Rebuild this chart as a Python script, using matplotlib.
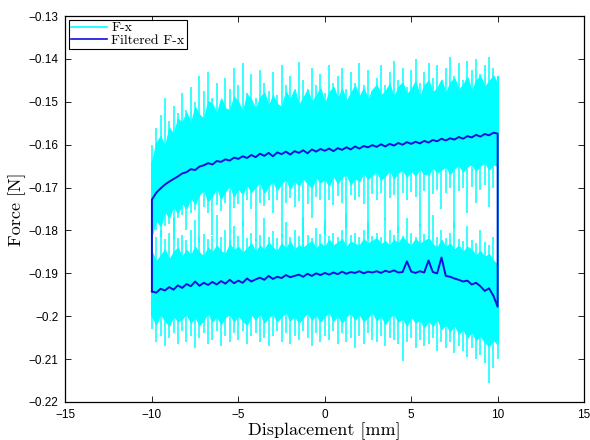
import numpy as np
import matplotlib
matplotlib.use("Agg")
import matplotlib.pyplot as plt
from matplotlib.lines import Line2D
from matplotlib.ticker import FuncFormatter

# displacement grid [mm], 0.25 mm step
x_fine = np.arange(-10, 10.001, 0.25)   # 81 points

# filtered force, upper branch [N]
f_up = [
    -0.1728, -0.1712, -0.1702, -0.1693,
    -0.1686, -0.1680, -0.1674, -0.1667,
    -0.1664, -0.1657, -0.1659, -0.1651,
    -0.1648, -0.1643, -0.1646, -0.1638,
    -0.1640, -0.1634, -0.1637, -0.1630,
    -0.1633, -0.1627, -0.1631, -0.1624,
    -0.1629, -0.1621, -0.1626, -0.1619,
    -0.1627, -0.1618, -0.1622, -0.1616,
    -0.1623, -0.1615, -0.1619, -0.1613,
    -0.1620, -0.1611, -0.1616, -0.1610,
    -0.1614, -0.1609, -0.1615, -0.1608,
    -0.1612, -0.1606, -0.1611, -0.1604,
    -0.1609, -0.1603, -0.1606, -0.1601,
    -0.1605, -0.1599, -0.1604, -0.1598,
    -0.1602, -0.1596, -0.1600, -0.1594,
    -0.1598, -0.1593, -0.1597, -0.1591,
    -0.1595, -0.1589, -0.1592, -0.1586,
    -0.1590, -0.1585, -0.1588, -0.1582,
    -0.1586, -0.1580, -0.1583, -0.1577,
    -0.1581, -0.1575, -0.1578, -0.1572,
    -0.1574]

# filtered force, lower branch [N]
f_low = [
    -0.1942, -0.1945, -0.1936, -0.1940,
    -0.1932, -0.1938, -0.1928, -0.1934,
    -0.1925, -0.1930, -0.1919, -0.1929,
    -0.1922, -0.1927, -0.1920, -0.1926,
    -0.1918, -0.1924, -0.1915, -0.1923,
    -0.1917, -0.1922, -0.1912, -0.1919,
    -0.1914, -0.1910, -0.1915, -0.1906,
    -0.1913, -0.1908, -0.1911, -0.1904,
    -0.1909, -0.1906, -0.1903, -0.1908,
    -0.1901, -0.1906, -0.1900, -0.1904,
    -0.1899, -0.1903, -0.1898, -0.1902,
    -0.1896, -0.1901, -0.1897, -0.1899,
    -0.1895, -0.1900, -0.1896, -0.1898,
    -0.1895, -0.1899, -0.1894, -0.1897,
    -0.1893, -0.1898, -0.1897, -0.1872,
    -0.1896, -0.1899, -0.1895, -0.1898,
    -0.1870, -0.1897, -0.1900, -0.1863,
    -0.1906, -0.1908, -0.1912, -0.1915,
    -0.1919, -0.1917, -0.1926, -0.1922,
    -0.1930, -0.1941, -0.1935, -0.1952,
    -0.1978]

# edges of the dense part of the raw signal [N]
up_core_top = [
    -0.1640, -0.1595, -0.1580, -0.1605,
    -0.1560, -0.1575, -0.1540, -0.1548,
    -0.1525, -0.1550, -0.1512, -0.1530,
    -0.1540, -0.1498, -0.1505, -0.1528,
    -0.1492, -0.1515, -0.1520, -0.1488,
    -0.1500, -0.1525, -0.1482, -0.1495,
    -0.1518, -0.1490, -0.1478, -0.1510,
    -0.1485, -0.1505, -0.1512, -0.1476,
    -0.1495, -0.1470, -0.1508, -0.1490,
    -0.1472, -0.1500, -0.1485, -0.1468,
    -0.1505, -0.1478, -0.1465, -0.1492,
    -0.1470, -0.1498, -0.1480, -0.1462,
    -0.1488, -0.1468, -0.1495, -0.1472,
    -0.1460, -0.1485, -0.1475, -0.1458,
    -0.1490, -0.1465, -0.1455, -0.1482,
    -0.1470, -0.1452, -0.1488, -0.1462,
    -0.1450, -0.1478, -0.1468, -0.1448,
    -0.1480, -0.1455, -0.1445, -0.1472,
    -0.1460, -0.1442, -0.1475, -0.1450,
    -0.1440, -0.1465, -0.1452, -0.1438,
    -0.1460]
up_core_bot = [
    -0.1810, -0.1775, -0.1790, -0.1755,
    -0.1770, -0.1742, -0.1760, -0.1735,
    -0.1748, -0.1722, -0.1738, -0.1715,
    -0.1705, -0.1732, -0.1718, -0.1700,
    -0.1725, -0.1708, -0.1695, -0.1720,
    -0.1702, -0.1715, -0.1692, -0.1710,
    -0.1698, -0.1688, -0.1712, -0.1695,
    -0.1685, -0.1705, -0.1690, -0.1680,
    -0.1702, -0.1684, -0.1695, -0.1678,
    -0.1690, -0.1700, -0.1675, -0.1688,
    -0.1680, -0.1695, -0.1672, -0.1690,
    -0.1675, -0.1668, -0.1692, -0.1678,
    -0.1685, -0.1665, -0.1680, -0.1670,
    -0.1662, -0.1682, -0.1672, -0.1660,
    -0.1678, -0.1665, -0.1658, -0.1675,
    -0.1660, -0.1672, -0.1655, -0.1668,
    -0.1670, -0.1652, -0.1665, -0.1658,
    -0.1650, -0.1668, -0.1655, -0.1648,
    -0.1662, -0.1650, -0.1645, -0.1660,
    -0.1648, -0.1640, -0.1658, -0.1645,
    -0.1650]
lo_core_top = [
    -0.1850, -0.1872, -0.1858, -0.1845,
    -0.1868, -0.1850, -0.1840, -0.1862,
    -0.1845, -0.1858, -0.1838, -0.1852,
    -0.1860, -0.1840, -0.1850, -0.1835,
    -0.1848, -0.1855, -0.1832, -0.1845,
    -0.1838, -0.1852, -0.1842, -0.1830,
    -0.1850, -0.1835, -0.1845, -0.1828,
    -0.1840, -0.1848, -0.1830, -0.1842,
    -0.1826, -0.1845, -0.1835, -0.1840,
    -0.1832, -0.1825, -0.1842, -0.1830,
    -0.1838, -0.1822, -0.1835, -0.1828,
    -0.1820, -0.1838, -0.1826, -0.1832,
    -0.1835, -0.1820, -0.1830, -0.1824,
    -0.1818, -0.1832, -0.1825, -0.1836,
    -0.1822, -0.1830, -0.1815, -0.1828,
    -0.1835, -0.1820, -0.1830, -0.1825,
    -0.1818, -0.1832, -0.1840, -0.1822,
    -0.1838, -0.1830, -0.1845, -0.1835,
    -0.1850, -0.1838, -0.1845, -0.1858,
    -0.1848, -0.1862, -0.1855, -0.1870,
    -0.1880]
lo_core_bot = [
    -0.2000, -0.2018, -0.1995, -0.2010,
    -0.2022, -0.1998, -0.2012, -0.2005,
    -0.1995, -0.2015, -0.2002, -0.2020,
    -0.2008, -0.1992, -0.2012, -0.2000,
    -0.2018, -0.2002, -0.1995, -0.2012,
    -0.1998, -0.2010, -0.2020, -0.1995,
    -0.2008, -0.1992, -0.2015, -0.2002,
    -0.1995, -0.2012, -0.2000, -0.1990,
    -0.2010, -0.1998, -0.2015, -0.2002,
    -0.1992, -0.2008, -0.1996, -0.2012,
    -0.2000, -0.1990, -0.2010, -0.1998,
    -0.2015, -0.2000, -0.1992, -0.2008,
    -0.1995, -0.2012, -0.2002, -0.1990,
    -0.2010, -0.1998, -0.2018, -0.2002,
    -0.1995, -0.2012, -0.2005, -0.2022,
    -0.2000, -0.2015, -0.2008, -0.2025,
    -0.2010, -0.2022, -0.2005, -0.2030,
    -0.2018, -0.2035, -0.2020, -0.2040,
    -0.2030, -0.2050, -0.2035, -0.2055,
    -0.2045, -0.2060, -0.2070, -0.2055,
    -0.2065]

# spike tips of the raw signal [N]
up_spike_hi = [
    -0.1600, -0.1560, -0.1530, -0.1490,
    -0.1545, -0.1510, -0.1525, -0.1480,
    -0.1520, -0.1465, -0.1500, -0.1440,
    -0.1475, -0.1430, -0.1490, -0.1455,
    -0.1500, -0.1445, -0.1470, -0.1420,
    -0.1460, -0.1410, -0.1480, -0.1435,
    -0.1490, -0.1425, -0.1455, -0.1475,
    -0.1430, -0.1485, -0.1415, -0.1460,
    -0.1440, -0.1490, -0.1408, -0.1450,
    -0.1470, -0.1420, -0.1460, -0.1435,
    -0.1480, -0.1415, -0.1455, -0.1440,
    -0.1420, -0.1470, -0.1430, -0.1455,
    -0.1410, -0.1460, -0.1425, -0.1475,
    -0.1445, -0.1415, -0.1460, -0.1430,
    -0.1405, -0.1450, -0.1420, -0.1465,
    -0.1425, -0.1400, -0.1455, -0.1430,
    -0.1410, -0.1445, -0.1415, -0.1460,
    -0.1420, -0.1395, -0.1440, -0.1410,
    -0.1450, -0.1405, -0.1425, -0.1400,
    -0.1435, -0.1415, -0.1395, -0.1420,
    -0.1440]
up_spike_lo = [
    -0.1840, -0.1800, -0.1815, -0.1790,
    -0.1785, -0.1820, -0.1770, -0.1765,
    -0.1800, -0.1760, -0.1752, -0.1830,
    -0.1745, -0.1760, -0.1810, -0.1740,
    -0.1755, -0.1735, -0.1845, -0.1748,
    -0.1738, -0.1790, -0.1730, -0.1750,
    -0.1825, -0.1735, -0.1742, -0.1728,
    -0.1760, -0.1730, -0.1815, -0.1735,
    -0.1725, -0.1745, -0.1732, -0.1840,
    -0.1738, -0.1770, -0.1722, -0.1730,
    -0.1810, -0.1728, -0.1740, -0.1720,
    -0.1735, -0.1795, -0.1718, -0.1730,
    -0.1722, -0.1738, -0.1820, -0.1715,
    -0.1730, -0.1712, -0.1775, -0.1725,
    -0.1718, -0.1805, -0.1712, -0.1728,
    -0.1710, -0.1722, -0.1790, -0.1708,
    -0.1815, -0.1715, -0.1705, -0.1750,
    -0.1712, -0.1702, -0.1795, -0.1708,
    -0.1700, -0.1760, -0.1698, -0.1735,
    -0.1705, -0.1695, -0.1745, -0.1700,
    -0.1720]
lo_spike_hi = [
    -0.1780, -0.1815, -0.1800, -0.1820,
    -0.1805, -0.1770, -0.1818, -0.1810,
    -0.1822, -0.1800, -0.1775, -0.1815,
    -0.1808, -0.1820, -0.1812, -0.1765,
    -0.1815, -0.1800, -0.1822, -0.1790,
    -0.1812, -0.1778, -0.1818, -0.1805,
    -0.1820, -0.1810, -0.1770, -0.1815,
    -0.1802, -0.1818, -0.1808, -0.1780,
    -0.1815, -0.1800, -0.1812, -0.1768,
    -0.1810, -0.1818, -0.1795, -0.1808,
    -0.1775, -0.1812, -0.1805, -0.1815,
    -0.1800, -0.1762, -0.1810, -0.1805,
    -0.1815, -0.1798, -0.1780, -0.1812,
    -0.1805, -0.1815, -0.1772, -0.1800,
    -0.1810, -0.1790, -0.1812, -0.1770,
    -0.1805, -0.1815, -0.1785, -0.1808,
    -0.1812, -0.1765, -0.1815, -0.1800,
    -0.1818, -0.1805, -0.1780, -0.1820,
    -0.1825, -0.1790, -0.1822, -0.1830,
    -0.1800, -0.1828, -0.1835, -0.1815,
    -0.1845]
lo_spike_lo = [
    -0.2030, -0.2060, -0.2045, -0.2070,
    -0.2050, -0.2040, -0.2065, -0.2035,
    -0.2060, -0.2045, -0.2075, -0.2050,
    -0.2040, -0.2065, -0.2055, -0.2035,
    -0.2070, -0.2045, -0.2060, -0.2040,
    -0.2055, -0.2035, -0.2065, -0.2045,
    -0.2040, -0.2060, -0.2050, -0.2070,
    -0.2045, -0.2035, -0.2060, -0.2040,
    -0.2065, -0.2045, -0.2055, -0.2035,
    -0.2050, -0.2070, -0.2040, -0.2060,
    -0.2045, -0.2055, -0.2035, -0.2065,
    -0.2040, -0.2060, -0.2050, -0.2075,
    -0.2045, -0.2065, -0.2040, -0.2055,
    -0.2060, -0.2045, -0.2070, -0.2050,
    -0.2055, -0.2065, -0.2105, -0.2060,
    -0.2050, -0.2075, -0.2055, -0.2070,
    -0.2065, -0.2050, -0.2080, -0.2060,
    -0.2075, -0.2060, -0.2085, -0.2070,
    -0.2080, -0.2095, -0.2075, -0.2100,
    -0.2090, -0.2110, -0.2155, -0.2120,
    -0.2100]

xticks = [-15, -10, -5, 0, 5, 10, 15]
yticks = [-0.22, -0.21, -0.20, -0.19, -0.18, -0.17, -0.16, -0.15, -0.14, -0.13]

RAW = '#00ffff'
FILT = '#1010dd'


def tick_fmt(v, pos):
    return ('%g' % round(v, 4)).replace('-', '\u2212')


fig = plt.figure(figsize=(5.9, 4.4), dpi=100)
ax = fig.add_axes([0.111, 0.0864, 0.879, 0.877])

# raw signal: dense core + spikes
ax.fill_between(x_fine, up_core_bot, up_core_top, color=RAW, lw=0.8, edgecolor=RAW)
ax.fill_between(x_fine, lo_core_bot, lo_core_top, color=RAW, lw=0.8, edgecolor=RAW)
for tips, base in [(up_spike_hi, f_up), (up_spike_lo, f_up),
                   (lo_spike_hi, f_low), (lo_spike_lo, f_low)]:
    ax.vlines(x_fine, base, tips, color=RAW, lw=1.1)
ax.vlines([x_fine[0]], lo_core_bot[0], up_core_top[0], color=RAW, lw=1.5)
ax.vlines([x_fine[-1]], lo_core_bot[-1], up_spike_hi[-1], color=RAW, lw=1.5)

# filtered loop
loop_x = np.concatenate([x_fine, x_fine[::-1], x_fine[:1]])
loop_y = np.concatenate([f_low, f_up[::-1], f_low[:1]])
ax.plot(loop_x, loop_y, color=FILT, lw=1.4)

ax.set_xlim(-15, 15)
ax.set_ylim(-0.22, -0.13)
ax.set_xticks(xticks)
ax.set_yticks(yticks)
ax.xaxis.set_major_formatter(FuncFormatter(tick_fmt))
ax.yaxis.set_major_formatter(FuncFormatter(tick_fmt))
ax.tick_params(direction='in', length=4, width=0.6, top=True, right=True,
               labelsize=8.5, pad=5)
for lab in ax.get_xticklabels() + ax.get_yticklabels():
    lab.set_fontfamily('Liberation Sans')
for s in ax.spines.values():
    s.set_linewidth(0.9)

ax.set_xlabel('Displacement [mm]', fontfamily='cmr10', fontsize=13, labelpad=1)
ax.set_ylabel('Force [N]', fontfamily='cmr10', fontsize=13, labelpad=2)

handles = [Line2D([], [], color=RAW, lw=1.2), Line2D([], [], color=FILT, lw=1.2)]
leg = ax.legend(handles, ['F-x', 'Filtered F-x'], loc='upper left',
                prop={'family': 'cmr10', 'size': 10}, fancybox=False,
                framealpha=1, edgecolor='black', borderaxespad=0.25,
                borderpad=0.15, labelspacing=0.0, handlelength=2.6,
                handletextpad=0.3)
leg.get_frame().set_linewidth(0.8)

plt.savefig('out.png', dpi=100)
